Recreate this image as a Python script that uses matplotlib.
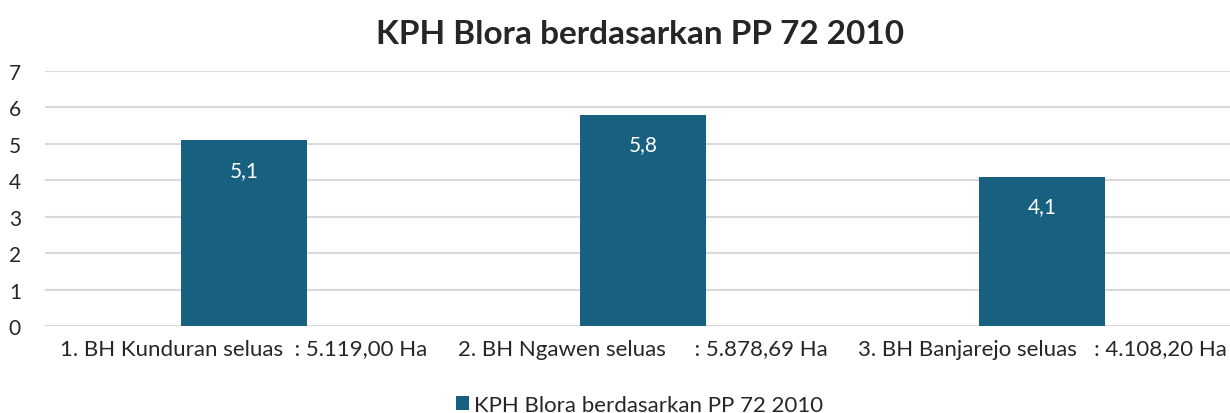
import matplotlib.pyplot as plt
import numpy as np

plt.rcParams['font.family'] = ['Lato', 'DejaVu Sans']

kategori = ['1. BH Kunduran seluas  : 5.119,00 Ha',
            '2. BH Ngawen seluas     : 5.878,69 Ha',
            '3. BH Banjarejo seluas   : 4.108,20 Ha']
nilai = [5.1, 5.8, 4.1]
label_nilai = ['5,1', '5,8', '4,1']
judul = 'KPH Blora berdasarkan PP 72 2010'

warna = '#17607f'

fig = plt.figure(figsize=(12.3, 4.14), dpi=100)
ax = fig.add_axes([0.0362, 0.210, 0.9732, 0.616])

x = np.arange(len(kategori))
bars = ax.bar(x, nilai, width=0.316, color=warna, zorder=3, label=judul)

# label dalam batang
for b, t in zip(bars, label_nilai):
    ax.annotate(t, (b.get_x() + b.get_width() / 2, b.get_height()),
                xytext=(0, -14), textcoords='offset points',
                ha='center', va='top', color='white', fontsize=15, zorder=4)

ax.set_xlim(-0.5, 2.5)
ax.set_ylim(0, 7)
ax.set_yticks(range(0, 8))
ax.set_xticks(x)
ax.set_xticklabels(kategori, fontsize=16, color='#262626')
ax.tick_params(axis='y', labelsize=15, colors='#262626', length=0, pad=17)
ax.tick_params(axis='x', length=0, pad=9)

ax.grid(axis='y', color='#d9d9d9', linewidth=1.5, zorder=0)
for s in ax.spines.values():
    s.set_visible(False)

fig.text(0.52, 0.917, judul, ha='center', va='center', fontsize=24,
         fontweight='bold', color='#262626')

fig.legend(handles=[bars], labels=[judul], loc='center', bbox_to_anchor=(0.52, 0.02),
           frameon=False, fontsize=16, handlelength=0.6, handleheight=0.6,
           handletextpad=0.2, labelcolor='#262626')

fig.savefig('out.png', dpi=100)
